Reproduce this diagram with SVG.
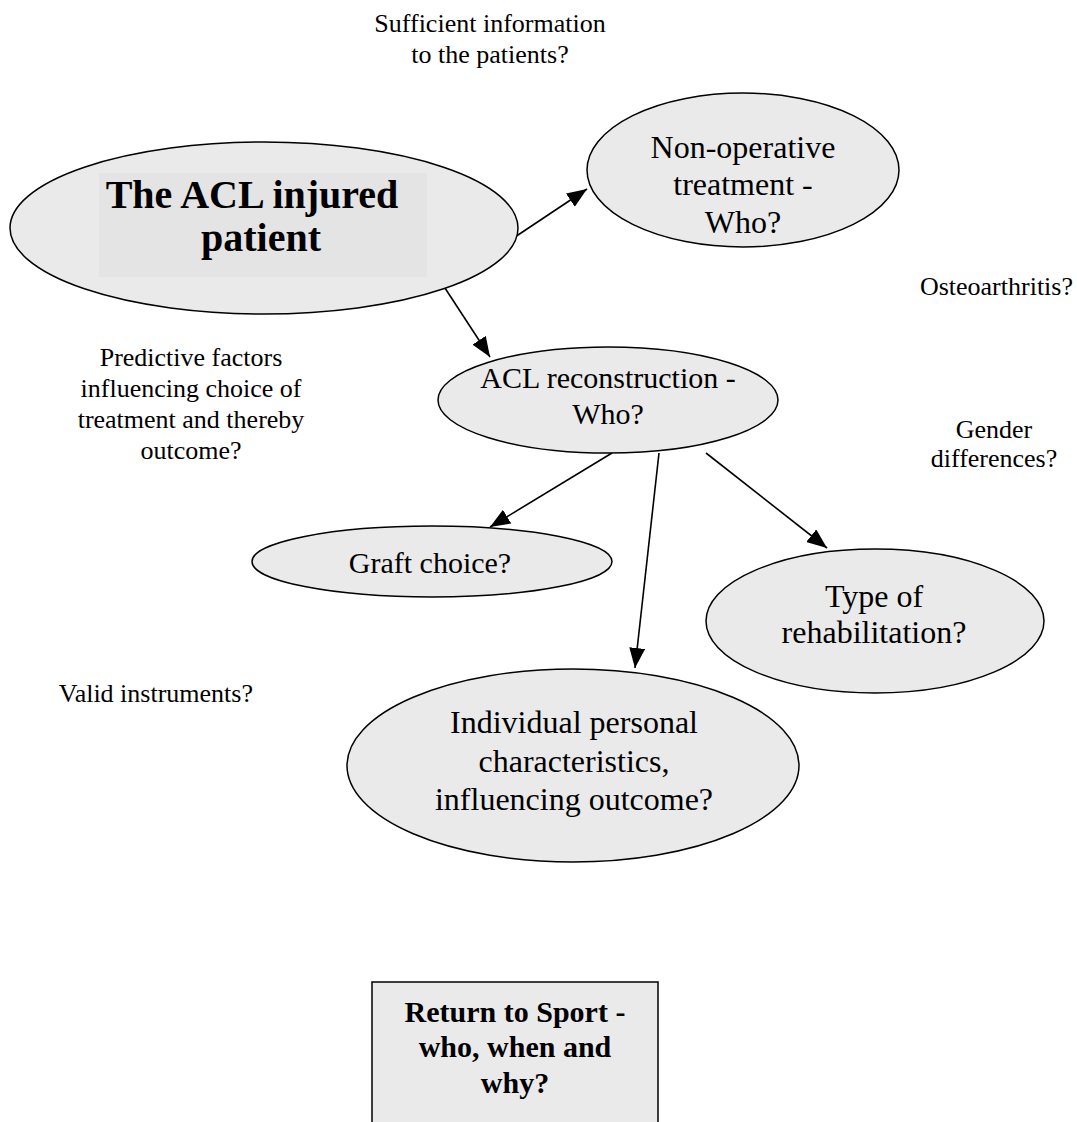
<svg xmlns="http://www.w3.org/2000/svg" width="1077" height="1122" viewBox="0 0 1077 1122">
<style>
text{font-family:"Liberation Serif","Times New Roman",serif;fill:#000;text-anchor:middle}
.node{fill:#eaeaea;stroke:#000;stroke-width:1.5}
.n32{font-size:32px}
.n30{font-size:30px}
.lbl{font-size:26px}
.b40{font-size:40px;font-weight:bold}
.b30{font-size:30px;font-weight:bold}
.edge{stroke:#000;stroke-width:1.6;fill:none;marker-end:url(#ah)}
</style>
<defs>
<marker id="ah" markerUnits="userSpaceOnUse" markerWidth="20" markerHeight="16" refX="20" refY="8" orient="auto">
<path d="M0,0 L20,8 L0,16 z" fill="#000"/>
</marker>
</defs>
<rect width="1077" height="1122" fill="#fff"/>

<g id="connectors">
<line class="edge" x1="515" y1="237" x2="587" y2="189"/>
<line class="edge" x1="443" y1="285" x2="490" y2="357"/>
<line class="edge" x1="612" y1="453" x2="490" y2="527"/>
<line class="edge" x1="659" y1="453" x2="635" y2="668"/>
<line class="edge" x1="706" y1="453" x2="827" y2="548"/>
</g>

<g id="acl-patient">
<ellipse class="node" cx="264" cy="228" rx="254" ry="86"/>
<rect x="99" y="173" width="328" height="104" fill="#e4e4e4"/>
<text class="b40" x="252" y="208">The ACL injured</text>
<text class="b40" x="261" y="251">patient</text>
</g>

<g id="non-operative">
<ellipse class="node" cx="743" cy="170" rx="156" ry="77"/>
<text class="n32" x="743" y="158">Non-operative</text>
<text class="n32" x="743" y="195">treatment -</text>
<text class="n32" x="743" y="233">Who?</text>
</g>

<g id="acl-reconstruction">
<ellipse class="node" cx="608" cy="400" rx="170" ry="53"/>
<text class="n30" x="608" y="388">ACL reconstruction -</text>
<text class="n30" x="608" y="424">Who?</text>
</g>

<g id="graft-choice">
<ellipse class="node" cx="432" cy="561.5" rx="180" ry="35.5"/>
<text class="n30" x="430" y="573">Graft choice?</text>
</g>

<g id="rehabilitation">
<ellipse class="node" cx="875" cy="621" rx="169" ry="72"/>
<text class="n32" x="874" y="607">Type of</text>
<text class="n32" x="874" y="643">rehabilitation?</text>
</g>

<g id="individual">
<ellipse class="node" cx="573" cy="765.5" rx="226" ry="96.5"/>
<text class="n32" x="574" y="733">Individual personal</text>
<text class="n32" x="574" y="772">characteristics,</text>
<text class="n32" x="574" y="810">influencing outcome?</text>
</g>

<g id="return-to-sport">
<rect x="372" y="982" width="286" height="170" fill="#eaeaea" stroke="#000" stroke-width="1.5"/>
<text class="b30" x="515" y="1022">Return to Sport -</text>
<text class="b30" x="515" y="1057">who, when and</text>
<text class="b30" x="515" y="1093">why?</text>
</g>

<g id="labels">
<text class="lbl" x="490" y="32">Sufficient information</text>
<text class="lbl" x="490" y="63">to the patients?</text>
<text class="lbl" x="1073" y="295" style="text-anchor:end">Osteoarthritis?</text>
<text class="lbl" x="994" y="438">Gender</text>
<text class="lbl" x="994" y="467">differences?</text>
<text class="lbl" x="191" y="366">Predictive factors</text>
<text class="lbl" x="191" y="397">influencing choice of</text>
<text class="lbl" x="191" y="428">treatment and thereby</text>
<text class="lbl" x="191" y="459">outcome?</text>
<text class="lbl" x="253" y="702" style="text-anchor:end">Valid instruments?</text>
</g>
</svg>
